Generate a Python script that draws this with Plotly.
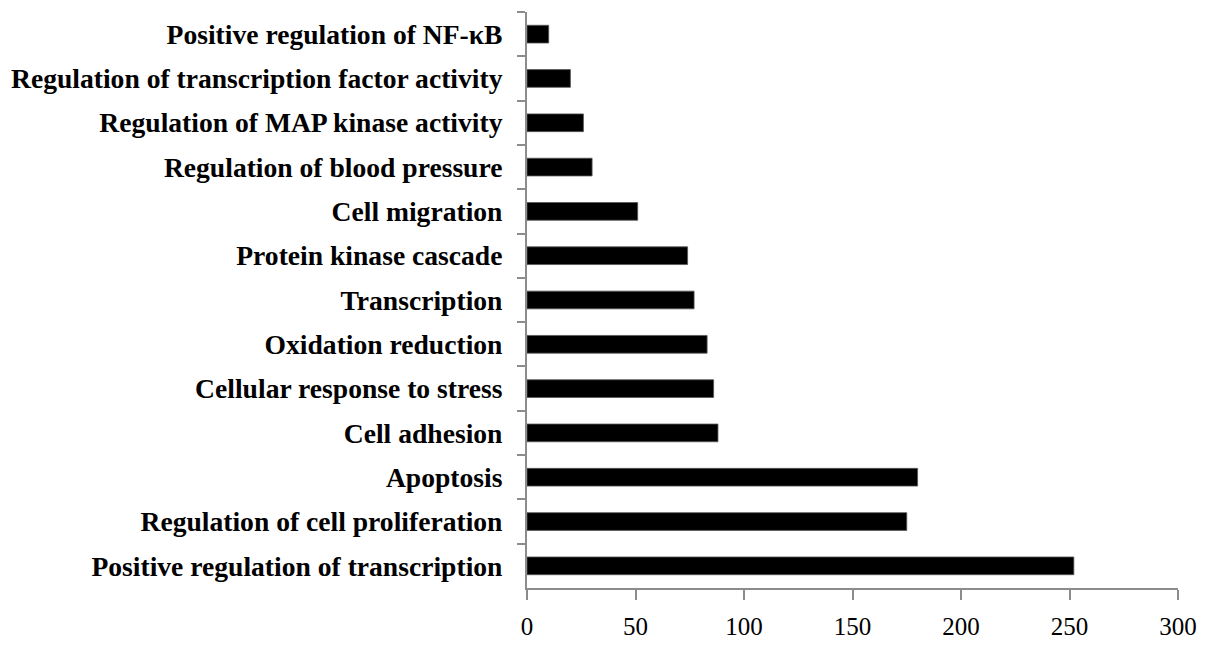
import plotly.graph_objects as go

categories = [
    "Positive regulation of NF-κB",
    "Regulation of transcription factor activity",
    "Regulation of MAP kinase activity",
    "Regulation of blood pressure",
    "Cell migration",
    "Protein kinase cascade",
    "Transcription",
    "Oxidation reduction",
    "Cellular response to stress",
    "Cell adhesion",
    "Apoptosis",
    "Regulation of cell proliferation",
    "Positive regulation of transcription",
]
counts = [10, 20, 26, 30, 51, 74, 77, 83, 86, 88, 180, 175, 252]
x_ticks = [0, 50, 100, 150, 200, 250, 300]

fig = go.Figure(go.Bar(
    x=counts, y=categories, orientation="h",
    marker=dict(color="black", line=dict(color="#555555", width=0.8)),
    width=0.4,
))

fig.update_layout(
    width=1197, height=631,
    margin=dict(l=519, r=27, t=4, b=51),
    paper_bgcolor="white", plot_bgcolor="white",
    showlegend=False,
    font=dict(family="Liberation Serif", color="black"),
)
fig.update_xaxes(
    range=[0, 300], tickvals=x_ticks, ticktext=[str(v) for v in x_ticks],
    showgrid=False, zeroline=False, automargin=False,
    showline=True, linecolor="#8c8c8c", linewidth=2,
    ticks="outside", ticklen=10, tickcolor="#8c8c8c", tickwidth=2,
    ticklabelstandoff=5, ticklabeloverflow="allow",
    tickfont=dict(family="Liberation Serif", size=25, color="black"),
)
fig.update_yaxes(
    range=[12.5, -0.5], type="category",
    showgrid=False, zeroline=False, automargin=False,
    showline=True, linecolor="#8c8c8c", linewidth=2,
    ticks="outside", ticklen=8, tickcolor="#8c8c8c", tickwidth=2,
    tickson="boundaries",
    ticklabelstandoff=17,
    tickfont=dict(family="Liberation Serif", size=27.6, color="black", weight="bold"),
)

fig.write_html("out.html")
